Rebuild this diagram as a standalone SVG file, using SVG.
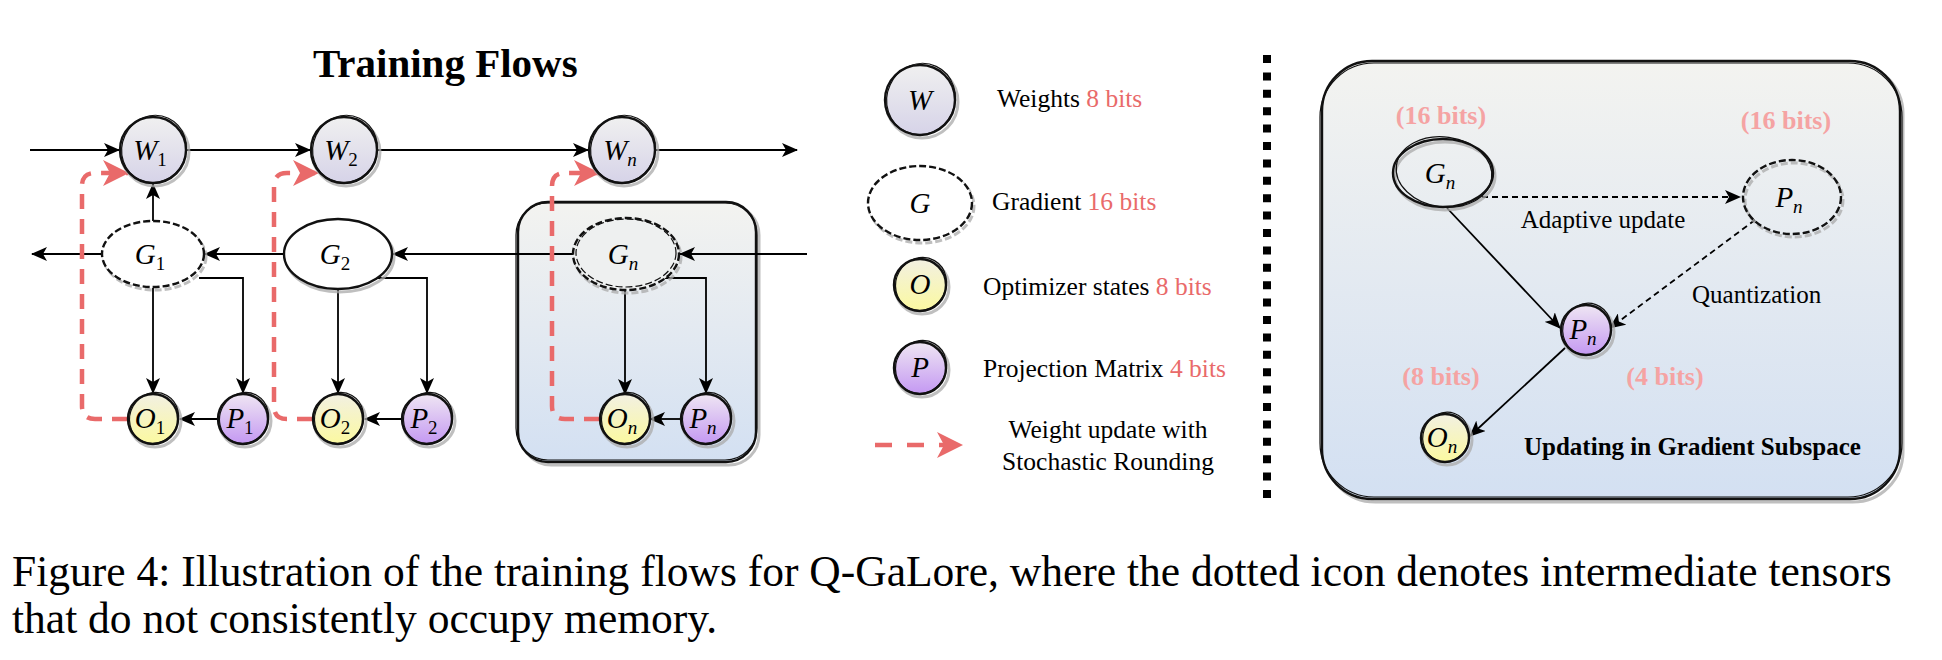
<svg xmlns="http://www.w3.org/2000/svg" width="1942" height="660" viewBox="0 0 1942 660">
<defs>
<linearGradient id="gW" x1="0" y1="0" x2="0" y2="1"><stop offset="0" stop-color="#f0f0f0"/><stop offset="1" stop-color="#d6d3e8"/></linearGradient>
<linearGradient id="gO" x1="0" y1="0" x2="0" y2="1"><stop offset="0" stop-color="#f2f0e2"/><stop offset="1" stop-color="#fbf9a0"/></linearGradient>
<linearGradient id="gP" x1="0" y1="0" x2="0" y2="1"><stop offset="0" stop-color="#efe6f3"/><stop offset="1" stop-color="#c498f2"/></linearGradient>
<linearGradient id="gB" x1="0" y1="0" x2="0" y2="1"><stop offset="0" stop-color="#f3f3f0"/><stop offset="1" stop-color="#d3e0f2"/></linearGradient>
<marker id="ah" markerUnits="userSpaceOnUse" viewBox="0 0 16 14" markerWidth="16" markerHeight="14" refX="15" refY="7" orient="auto"><path d="M0,0 L16,7 L0,14 L4,7 z" fill="#000"/></marker>
<marker id="rah" markerUnits="userSpaceOnUse" viewBox="0 0 26 26" markerWidth="26" markerHeight="26" refX="25" refY="13" orient="auto"><path d="M0,0 L26,13 L0,26 L7,13 z" fill="#e96a6a"/></marker>
</defs>
<style>
.t{font-family:"Liberation Serif","Times New Roman",serif;fill:#000}
.m{font-family:"Liberation Serif","Times New Roman",serif;font-style:italic;font-size:29px;text-anchor:middle;fill:#000}
.s{font-size:19px}
.ln{stroke:#000;stroke-width:1.8;fill:none}
.ar{marker-end:url(#ah)}
.dl{stroke-dasharray:6 4}
.red{stroke:#e96a6a;stroke-width:4.5;fill:none;stroke-dasharray:15 10;marker-end:url(#rah)}
.sh{fill:none;stroke:#a9a9a9;stroke-width:3;opacity:.75}
.ol{stroke:#111;stroke-width:2.4}
.o2{fill:none;stroke:#111;stroke-width:1.2}
.dsh{stroke-dasharray:7 3}
.rd{fill:#e96a6a}
.pk{font-family:"Liberation Serif","Times New Roman",serif;font-weight:bold;font-size:26px;fill:#f5a3a3;text-anchor:middle}
.box{fill:url(#gB);stroke:#111;stroke-width:2.4}
.sep{stroke:#000;stroke-width:8;stroke-dasharray:8 9.4}
</style>

<text class="t" x="313" y="77" font-size="41" font-weight="bold">Training Flows</text>

<g id="panelBox">
<rect x="521" y="205" width="238" height="260" rx="30" class="sh"/>
<rect x="518" y="202" width="238" height="260" rx="30" class="box"/>
<rect x="516" y="203" width="241" height="257" rx="32" class="o2"/>
</g>

<g id="rightBox">
<rect x="1325" y="64" width="578" height="438" rx="50" class="sh"/>
<rect x="1322" y="61" width="578" height="438" rx="50" class="box"/>
<rect x="1320" y="63" width="582" height="434" rx="54" class="o2"/>
</g>

<line x1="1267" y1="55" x2="1267" y2="502" class="sep"/>

<g id="connectors">
<line x1="30" y1="150" x2="119" y2="150" class="ln ar"/>
<line x1="187" y1="150" x2="310" y2="150" class="ln ar"/>
<line x1="378" y1="150" x2="588" y2="150" class="ln ar"/>
<line x1="656" y1="150" x2="797" y2="150" class="ln ar"/>
<line x1="153" y1="221" x2="153" y2="184" class="ln ar"/>
<line x1="102" y1="254" x2="32" y2="254" class="ln ar"/>
<line x1="284" y1="254" x2="205" y2="254" class="ln ar"/>
<line x1="573" y1="254" x2="393" y2="254" class="ln ar"/>
<line x1="807" y1="254" x2="680" y2="254" class="ln ar"/>
<line x1="153" y1="288" x2="153" y2="393" class="ln ar"/>
<path d="M199,278 H243 V393" class="ln ar"/>
<line x1="218" y1="419" x2="180" y2="419" class="ln ar"/>
<line x1="338" y1="289" x2="338" y2="393" class="ln ar"/>
<path d="M375,278 H427 V393" class="ln ar"/>
<line x1="402" y1="419" x2="365" y2="419" class="ln ar"/>
<line x1="625" y1="291" x2="625" y2="394" class="ln ar"/>
<path d="M663,278 H706 V393" class="ln ar"/>
<line x1="680" y1="419" x2="650" y2="419" class="ln ar"/>
<path d="M127,419 H95 Q82,419 82,406 V186 Q82,173 95,173 H128" class="red"/>
<path d="M312,419 H287 Q274,419 274,406 V186 Q274,173 287,173 H318" class="red"/>
<path d="M599,419 H565 Q552,419 552,406 V186 Q552,173 565,173 H599" class="red"/>
<line x1="1482" y1="197" x2="1740" y2="197" class="ln ar dl"/>
<line x1="1447" y1="208" x2="1560" y2="328" class="ln ar"/>
<line x1="1755" y1="220" x2="1610" y2="328" class="ln ar dl"/>
<line x1="1565" y1="348" x2="1470" y2="436" class="ln ar"/>
</g>

<g id="W1">
<circle cx="155" cy="152" r="34" class="sh"/>
<circle cx="153" cy="150" r="33" fill="url(#gW)" class="ol"/>
<ellipse cx="154" cy="149" rx="32" ry="34" class="o2" transform="rotate(25 154 149)"/>
<text class="m" x="150" y="160">W<tspan class="s" dy="6" font-style="normal">1</tspan></text>
</g>
<g id="W2">
<circle cx="346" cy="152" r="34" class="sh"/>
<circle cx="344" cy="150" r="33" fill="url(#gW)" class="ol"/>
<ellipse cx="345" cy="149" rx="32" ry="34" class="o2" transform="rotate(25 345 149)"/>
<text class="m" x="341" y="160">W<tspan class="s" dy="6" font-style="normal">2</tspan></text>
</g>
<g id="Wn">
<circle cx="624" cy="152" r="34" class="sh"/>
<circle cx="622" cy="150" r="33" fill="url(#gW)" class="ol"/>
<ellipse cx="623" cy="149" rx="32" ry="34" class="o2" transform="rotate(25 623 149)"/>
<text class="m" x="620" y="160">W<tspan class="s" dy="6">n</tspan></text>
</g>

<g id="G1">
<ellipse cx="155" cy="257" rx="51" ry="33" class="sh dsh"/>
<ellipse cx="153" cy="254" rx="51" ry="33" fill="#fff" class="ol dsh"/>
<text class="m" x="150" y="264">G<tspan class="s" dy="6" font-style="normal">1</tspan></text>
</g>
<g id="G2">
<ellipse cx="340" cy="257" rx="54" ry="35" class="sh"/>
<ellipse cx="338" cy="254" rx="54" ry="35" fill="#fff" class="ol"/>
<text class="m" x="335" y="264">G<tspan class="s" dy="6" font-style="normal">2</tspan></text>
</g>
<g id="Gn">
<ellipse cx="628" cy="257" rx="53" ry="36" class="sh dsh"/>
<ellipse cx="626" cy="254" rx="53" ry="36" fill="#eef0f0" class="ol dsh"/>
<ellipse cx="626" cy="253" rx="50" ry="34" class="o2 dsh"/>
<text class="m" x="623" y="264">G<tspan class="s" dy="6">n</tspan></text>
</g>

<g id="O1">
<circle cx="155" cy="421" r="26" class="sh"/>
<circle cx="153" cy="419" r="25" fill="url(#gO)" class="ol"/>
<ellipse cx="154" cy="418" rx="24" ry="26" class="o2" transform="rotate(30 154 418)"/>
<text class="m" x="150" y="428" font-size="27">O<tspan class="s" dy="6" font-style="normal">1</tspan></text>
</g>
<g id="P1">
<circle cx="245" cy="421" r="26" class="sh"/>
<circle cx="243" cy="419" r="25" fill="url(#gP)" class="ol"/>
<ellipse cx="244" cy="418" rx="24" ry="26" class="o2" transform="rotate(30 244 418)"/>
<text class="m" x="240" y="428" font-size="27">P<tspan class="s" dy="6" font-style="normal">1</tspan></text>
</g>
<g id="O2">
<circle cx="340" cy="421" r="26" class="sh"/>
<circle cx="338" cy="419" r="25" fill="url(#gO)" class="ol"/>
<ellipse cx="339" cy="418" rx="24" ry="26" class="o2" transform="rotate(30 339 418)"/>
<text class="m" x="335" y="428" font-size="27">O<tspan class="s" dy="6" font-style="normal">2</tspan></text>
</g>
<g id="P2">
<circle cx="429" cy="421" r="26" class="sh"/>
<circle cx="427" cy="419" r="25" fill="url(#gP)" class="ol"/>
<ellipse cx="428" cy="418" rx="24" ry="26" class="o2" transform="rotate(30 428 418)"/>
<text class="m" x="424" y="428" font-size="27">P<tspan class="s" dy="6" font-style="normal">2</tspan></text>
</g>
<g id="On">
<circle cx="627" cy="421" r="26" class="sh"/>
<circle cx="625" cy="419" r="25" fill="url(#gO)" class="ol"/>
<ellipse cx="626" cy="418" rx="24" ry="26" class="o2" transform="rotate(30 626 418)"/>
<text class="m" x="622" y="428" font-size="27">O<tspan class="s" dy="6">n</tspan></text>
</g>
<g id="Pn">
<circle cx="708" cy="421" r="26" class="sh"/>
<circle cx="706" cy="419" r="25" fill="url(#gP)" class="ol"/>
<ellipse cx="707" cy="418" rx="24" ry="26" class="o2" transform="rotate(30 707 418)"/>
<text class="m" x="703" y="428" font-size="27">P<tspan class="s" dy="6">n</tspan></text>
</g>

<g id="legend">
<g id="legW">
<circle cx="922" cy="102" r="36" class="sh"/>
<circle cx="920" cy="100" r="35" fill="url(#gW)" class="ol"/>
<ellipse cx="921" cy="99" rx="34" ry="36" class="o2" transform="rotate(25 921 99)"/>
<text class="m" x="920" y="110">W</text>
<text class="t" x="997" y="107" font-size="25.5">Weights <tspan class="rd">8 bits</tspan></text>
</g>
<g id="legG">
<ellipse cx="922" cy="206" rx="52" ry="37" class="sh dsh"/>
<ellipse cx="920" cy="203" rx="52" ry="37" fill="#fff" class="ol dsh"/>
<text class="m" x="920" y="213">G</text>
<text class="t" x="992" y="210" font-size="25.5">Gradient <tspan class="rd">16 bits</tspan></text>
</g>
<g id="legO">
<circle cx="922" cy="287" r="27" class="sh"/>
<circle cx="920" cy="285" r="26" fill="url(#gO)" class="ol"/>
<ellipse cx="921" cy="284" rx="25" ry="27" class="o2" transform="rotate(30 921 284)"/>
<text class="m" x="920" y="294">O</text>
<text class="t" x="983" y="295" font-size="25.5">Optimizer states <tspan class="rd">8 bits</tspan></text>
</g>
<g id="legP">
<circle cx="922" cy="370" r="27" class="sh"/>
<circle cx="920" cy="368" r="26" fill="url(#gP)" class="ol"/>
<ellipse cx="921" cy="367" rx="25" ry="27" class="o2" transform="rotate(30 921 367)"/>
<text class="m" x="920" y="377">P</text>
<text class="t" x="983" y="377" font-size="25.5">Projection Matrix <tspan class="rd">4 bits</tspan></text>
</g>
<g id="legR">
<line x1="875" y1="445" x2="962" y2="445" stroke="#e96a6a" stroke-width="4.5" stroke-dasharray="17 15" marker-end="url(#rah)"/>
<text class="t" x="1108" y="438" font-size="25.5" text-anchor="middle">Weight update with</text>
<text class="t" x="1108" y="470" font-size="25.5" text-anchor="middle">Stochastic Rounding</text>
</g>
</g>

<g id="rlabels">
<text class="pk" x="1441" y="124">(16 bits)</text>
<text class="pk" x="1786" y="129">(16 bits)</text>
<text class="pk" x="1441" y="385">(8 bits)</text>
<text class="pk" x="1665" y="385">(4 bits)</text>
<text class="t" x="1603" y="228" font-size="25" text-anchor="middle">Adaptive update</text>
<text class="t" x="1692" y="303" font-size="25">Quantization</text>
<text class="t" x="1524" y="455" font-size="25" font-weight="bold">Updating in Gradient Subspace</text>
</g>
<g id="rGn">
<ellipse cx="1445" cy="176" rx="50" ry="34" class="sh"/>
<ellipse cx="1443" cy="173" rx="50" ry="34" fill="none" class="ol"/>
<ellipse cx="1444" cy="172" rx="48" ry="35" class="o2" transform="rotate(8 1444 172)"/>
<text class="m" x="1440" y="183">G<tspan class="s" dy="6">n</tspan></text>
</g>
<g id="rPd">
<ellipse cx="1794" cy="200" rx="49" ry="37" class="sh dsh"/>
<ellipse cx="1792" cy="197" rx="49" ry="37" fill="none" class="ol dsh"/>
<text class="m" x="1789" y="207">P<tspan class="s" dy="6">n</tspan></text>
</g>
<g id="rPn">
<circle cx="1588" cy="332" r="26" class="sh"/>
<circle cx="1586" cy="330" r="25" fill="url(#gP)" class="ol"/>
<ellipse cx="1587" cy="329" rx="24" ry="26" class="o2" transform="rotate(20 1587 329)"/>
<text class="m" x="1583" y="339" font-size="27">P<tspan class="s" dy="6">n</tspan></text>
</g>
<g id="rOn">
<circle cx="1447" cy="440" r="25" class="sh"/>
<circle cx="1445" cy="438" r="24" fill="url(#gO)" class="ol"/>
<ellipse cx="1446" cy="437" rx="23" ry="25" class="o2" transform="rotate(20 1446 437)"/>
<text class="m" x="1442" y="447" font-size="27">O<tspan class="s" dy="6">n</tspan></text>
</g>

<g id="caption">
<text class="t" x="12" y="586" font-size="43.5">Figure 4: Illustration of the training flows for Q-GaLore, where the dotted icon denotes intermediate tensors</text>
<text class="t" x="12" y="633" font-size="43.5">that do not consistently occupy memory.</text>
</g>
</svg>
